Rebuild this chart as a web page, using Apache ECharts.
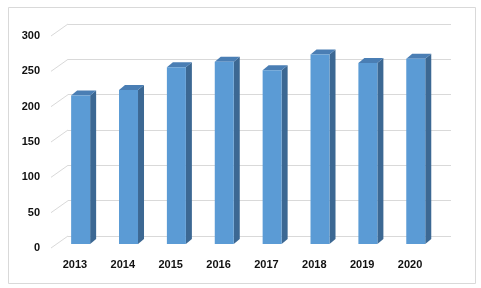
<!DOCTYPE html>
<html>
<head>
<meta charset="utf-8">
<script src="https://cdn.jsdelivr.net/npm/echarts@6/dist/echarts.min.js"></script>
<style>
html,body{margin:0;padding:0;background:#fff;}
#c{width:481px;height:288px;}
</style>
</head>
<body>
<div id="c"></div>
<script>
const years = ['2013','2014','2015','2016','2017','2018','2019','2020'];
const values = [210, 218, 250, 258, 246, 268, 256, 262];
const yTicks = [0, 50, 100, 150, 200, 250, 300];

const chart = echarts.init(document.getElementById('c'), null, {renderer:'canvas'});

const DEPTH_DX = -17, DEPTH_DY = 12;     // floor depth (back wall -> front edge)
const FACE_DX = -11.3, FACE_DY = 8;      // bar front face offset from back wall
const BAR_W = 19, SIDE_DX = 6, SIDE_DY = -5;

const labelFont = {fontFamily:'Liberation Sans', fontWeight:'bold', fontSize:11, color:'#111'};

const option = {
  animation:false,
  backgroundColor:'#fff',
  graphic:[{
    type:'rect', left:6, top:5, silent:true,
    shape:{x:0,y:0,width:467,height:276},
    style:{fill:null, stroke:'#d9d9d9', lineWidth:1}
  }],
  grid:[
    {left:68, right:30, top:24, bottom:52},
    {left:51, right:47, top:36, bottom:40}
  ],
  xAxis:[
    {type:'category', gridIndex:0, data:years, axisLine:{show:false}, axisTick:{show:false}, axisLabel:{show:false}, splitLine:{show:false}},
    {type:'category', gridIndex:1, data:years, axisLine:{show:false}, axisTick:{show:false},
     axisLabel:Object.assign({margin:11}, labelFont), splitLine:{show:false}}
  ],
  yAxis:[
    {type:'value', gridIndex:0, min:0, max:300, interval:50, axisLine:{show:false}, axisTick:{show:false}, axisLabel:{show:false},
     splitLine:{show:true, lineStyle:{color:'#d9d9d9', width:1}}},
    {type:'value', gridIndex:1, min:0, max:300, interval:50, axisLine:{show:false}, axisTick:{show:false},
     axisLabel:Object.assign({margin:11}, labelFont), splitLine:{show:false}}
  ],
  series:[
    {
      type:'custom', xAxisIndex:0, yAxisIndex:0, clip:false, silent:true,
      data: yTicks.map(v => [0, v]),
      encode:{x:0, y:1},
      renderItem:function(params, api){
        const y = api.coord([0, api.value(1)])[1];
        const x = params.coordSys.x;
        return {type:'line', shape:{x1:x, y1:y, x2:x+DEPTH_DX, y2:y+DEPTH_DY},
                style:{stroke:'#d9d9d9', lineWidth:1}};
      }
    },
    {
      type:'custom', xAxisIndex:0, yAxisIndex:0, clip:false, silent:true,
      data: values.map((v,i) => [i, v]),
      encode:{x:0, y:1},
      renderItem:function(params, api){
        const top = api.coord([api.value(0), api.value(1)]);
        const base = api.coord([api.value(0), 0]);
        const cx = top[0] + FACE_DX;
        const x0 = cx - BAR_W/2, x1 = cx + BAR_W/2;
        const yt = top[1] + FACE_DY, yb = base[1] + FACE_DY;
        return {type:'group', children:[
          {type:'polygon', shape:{points:[[x1,yt],[x1+SIDE_DX,yt+SIDE_DY],[x1+SIDE_DX,yb+SIDE_DY],[x1,yb]]},
           style:{fill:'#3C6893'}},
          {type:'polygon', shape:{points:[[x0,yt],[x0+SIDE_DX,yt+SIDE_DY],[x1+SIDE_DX,yt+SIDE_DY],[x1,yt]]},
           style:{fill:'#4A7EB4'}},
          {type:'rect', shape:{x:x0, y:yt, width:BAR_W, height:yb-yt},
           style:{fill:'#5B9BD5'}}
        ]};
      }
    }
  ]
};
chart.setOption(option);
</script>
</body>
</html>
